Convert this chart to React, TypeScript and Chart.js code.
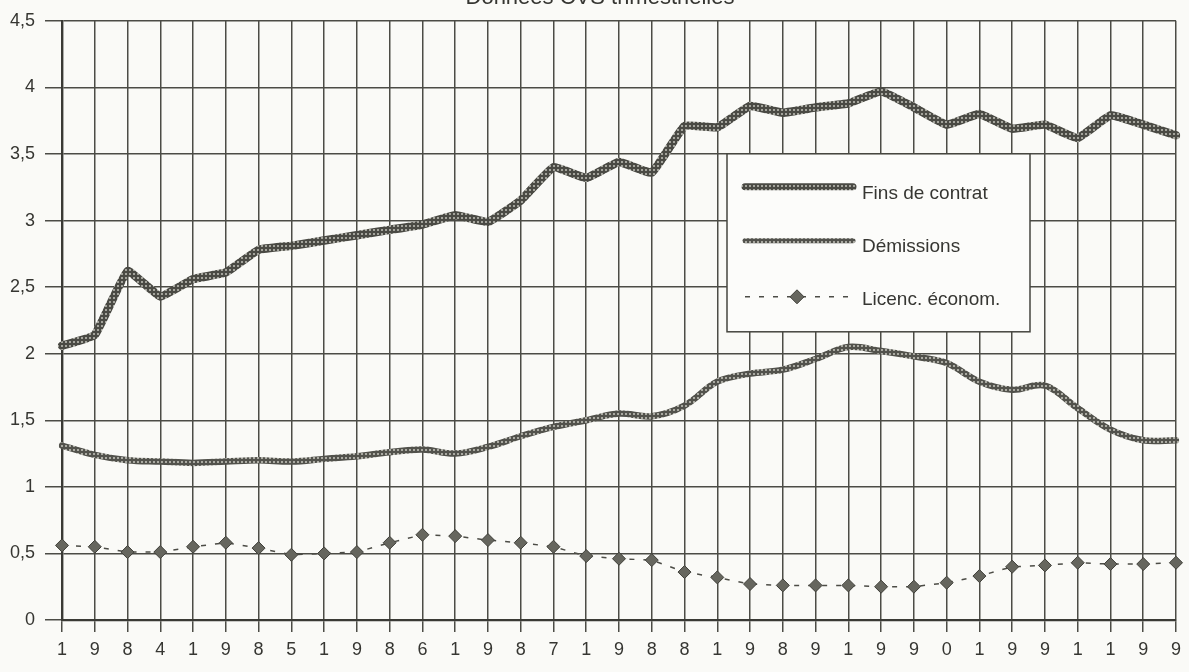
import React, { useEffect, useRef } from 'react';
import { Chart, registerables } from 'chart.js';

Chart.register(...registerables);

// Quarterly categories 1984 T1 .. 1992 T3
const quarters = [
  '1984T1', '1984T2', '1984T3', '1984T4',
  '1985T1', '1985T2', '1985T3', '1985T4',
  '1986T1', '1986T2', '1986T3', '1986T4',
  '1987T1', '1987T2', '1987T3', '1987T4',
  '1988T1', '1988T2', '1988T3', '1988T4',
  '1989T1', '1989T2', '1989T3', '1989T4',
  '1990T1', '1990T2', '1990T3', '1990T4',
  '1991T1', '1991T2', '1991T3', '1991T4',
  '1992T1', '1992T2', '1992T3',
];

// One digit printed under each quarter
const tickDigits = [
  '1', '9', '8', '4', '1', '9', '8', '5', '1', '9', '8', '6',
  '1', '9', '8', '7', '1', '9', '8', '8', '1', '9', '8', '9',
  '1', '9', '9', '0', '1', '9', '9', '1', '1', '9', '9',
];

const finsDeContrat = [
  2.06, 2.14, 2.62, 2.43, 2.56, 2.61, 2.78, 2.81, 2.85, 2.89, 2.93, 2.97,
  3.04, 2.99, 3.15, 3.40, 3.32, 3.44, 3.36, 3.71, 3.70, 3.86, 3.81, 3.85,
  3.88, 3.97, 3.85, 3.72, 3.80, 3.69, 3.72, 3.62, 3.79, 3.72, 3.64,
];

const demissions = [
  1.31, 1.24, 1.20, 1.19, 1.18, 1.19, 1.20, 1.19, 1.21, 1.23, 1.26, 1.28,
  1.25, 1.30, 1.38, 1.45, 1.50, 1.55, 1.53, 1.61, 1.79, 1.85, 1.88, 1.96,
  2.05, 2.02, 1.98, 1.93, 1.79, 1.73, 1.76, 1.59, 1.43, 1.35, 1.35,
];

const licencEconom = [
  0.56, 0.55, 0.51, 0.51, 0.55, 0.58, 0.54, 0.49, 0.50, 0.51, 0.58, 0.64,
  0.63, 0.60, 0.58, 0.55, 0.48, 0.46, 0.45, 0.36, 0.32, 0.27, 0.26, 0.26,
  0.26, 0.25, 0.25, 0.28, 0.33, 0.40, 0.41, 0.43, 0.42, 0.42, 0.43,
];

const seriesNames = ['Fins de contrat', 'Démissions', 'Licenc. économ.'];
const chartTitle = 'Données CVS trimestrielles';

const FONT = '"Liberation Sans", Arial, Helvetica, sans-serif';
const INK = '#363632';
const GRID = '#4c4c46';

function makeChain(dark: string, light: string): CanvasPattern | string {
  const c = document.createElement('canvas');
  c.width = 4;
  c.height = 4;
  const g = c.getContext('2d');
  if (!g) return dark;
  g.fillStyle = dark;
  g.fillRect(0, 0, 4, 4);
  g.fillStyle = light;
  g.fillRect(1, 1, 2, 2);
  return g.createPattern(c, 'repeat') || dark;
}

export default function App() {
  const ref = useRef<HTMLCanvasElement | null>(null);

  useEffect(() => {
    if (!ref.current) return;
    const chainThick = makeChain('#4a4a44', '#a4a49c');
    const chainThin = makeChain('#52524c', '#aaaaa2');

    const backgroundPlugin = {
      id: 'paper',
      beforeDraw(chart: any) {
        const { ctx, width, height } = chart;
        ctx.save();
        ctx.fillStyle = '#fafaf7';
        ctx.fillRect(0, 0, width, height);
        ctx.restore();
      },
    };

    const titlePlugin = {
      id: 'cutTitle',
      afterDraw(chart: any) {
        const { ctx, chartArea } = chart;
        ctx.save();
        ctx.font = `22px ${FONT}`;
        ctx.fillStyle = INK;
        ctx.textAlign = 'center';
        ctx.textBaseline = 'alphabetic';
        ctx.fillText(chartTitle, chartArea.left + 538, 4);
        ctx.restore();
      },
    };

    const legendPlugin = {
      id: 'boxLegend',
      afterDatasetsDraw(chart: any) {
        const { ctx, chartArea } = chart;
        const bx = chartArea.left + 665;
        const by = chartArea.top + 133;
        const bw = 303;
        const bh = 178;
        ctx.save();
        ctx.fillStyle = '#fcfcfa';
        ctx.fillRect(bx, by, bw, bh);
        ctx.strokeStyle = '#45453f';
        ctx.lineWidth = 1.5;
        ctx.strokeRect(bx, by, bw, bh);

        const sx0 = bx + 18;
        const sx1 = bx + 126;
        const tx = bx + 135;
        ctx.font = `19px ${FONT}`;
        ctx.fillStyle = INK;
        ctx.textAlign = 'left';
        ctx.textBaseline = 'alphabetic';

        // row 1
        ctx.lineCap = 'round';
        ctx.strokeStyle = chainThick;
        ctx.lineWidth = 7;
        ctx.beginPath();
        ctx.moveTo(sx0, by + 33);
        ctx.lineTo(sx1, by + 33);
        ctx.stroke();
        ctx.fillText(seriesNames[0], tx, by + 45);

        // row 2
        ctx.strokeStyle = chainThin;
        ctx.lineWidth = 5;
        ctx.beginPath();
        ctx.moveTo(sx0, by + 87);
        ctx.lineTo(sx1, by + 87);
        ctx.stroke();
        ctx.fillText(seriesNames[1], tx, by + 98);

        // row 3
        ctx.lineCap = 'butt';
        ctx.strokeStyle = '#4c4c46';
        ctx.lineWidth = 1.5;
        ctx.setLineDash([5, 9]);
        ctx.beginPath();
        ctx.moveTo(sx0, by + 143);
        ctx.lineTo(sx1, by + 143);
        ctx.stroke();
        ctx.setLineDash([]);
        const dx = bx + 70;
        const dy = by + 143;
        ctx.beginPath();
        ctx.moveTo(dx - 7, dy);
        ctx.lineTo(dx, dy - 7);
        ctx.lineTo(dx + 7, dy);
        ctx.lineTo(dx, dy + 7);
        ctx.closePath();
        ctx.fillStyle = '#66665e';
        ctx.fill();
        ctx.strokeStyle = '#40403a';
        ctx.lineWidth = 1;
        ctx.stroke();
        ctx.fillStyle = INK;
        ctx.fillText(seriesNames[2], tx, by + 151);
        ctx.restore();
      },
    };

    const chart = new Chart(ref.current, {
      type: 'line',
      data: {
        labels: quarters,
        datasets: [
          {
            label: seriesNames[0],
            data: finsDeContrat,
            borderColor: chainThick as any,
            borderWidth: 8.5,
            pointRadius: 0,
            tension: 0.1,
            borderCapStyle: 'round',
            borderJoinStyle: 'round',
          },
          {
            label: seriesNames[1],
            data: demissions,
            borderColor: chainThin as any,
            borderWidth: 6.5,
            pointRadius: 0,
            tension: 0.35,
            borderCapStyle: 'round',
            borderJoinStyle: 'round',
          },
          {
            label: seriesNames[2],
            data: licencEconom,
            borderColor: '#4c4c46',
            borderWidth: 1.5,
            borderDash: [5, 9],
            pointStyle: 'rectRot',
            pointRadius: 6.5,
            pointBackgroundColor: '#66665e',
            pointBorderColor: '#40403a',
            pointBorderWidth: 1,
            tension: 0,
          },
        ],
      },
      options: {
        animation: false,
        responsive: true,
        maintainAspectRatio: false,
        layout: { padding: { top: 18, right: 13, left: 0, bottom: 0 } },
        plugins: {
          legend: { display: false },
          title: { display: false },
          tooltip: { enabled: false },
        },
        scales: {
          x: {
            type: 'category',
            offset: false,
            afterFit(scale: any) {
              scale.height = 52;
            },
            grid: {
              color: GRID,
              lineWidth: 1.5,
              tickLength: 12,
              drawTicks: true,
            },
            border: { display: true, color: '#3a3a35', width: 2.2 },
            ticks: {
              autoSkip: false,
              maxRotation: 0,
              padding: 7,
              color: INK,
              font: { family: FONT, size: 18 },
              callback: (_v: any, i: number) => tickDigits[i],
            },
          },
          y: {
            min: 0,
            max: 4.5,
            afterFit(scale: any) {
              scale.width = 62;
            },
            grid: {
              color: GRID,
              lineWidth: 1.5,
              tickLength: 17,
              drawTicks: true,
            },
            border: { display: true, color: '#3a3a35', width: 2.4 },
            ticks: {
              stepSize: 0.5,
              padding: 10,
              color: INK,
              font: { family: FONT, size: 18 },
              callback: (v: any) => String(Number(v)).replace('.', ','),
            },
          },
        },
      },
      plugins: [backgroundPlugin, legendPlugin, titlePlugin],
    });

    return () => chart.destroy();
  }, []);

  return (
    <div style={{ position: 'fixed', left: 0, top: 0, width: 1189, height: 672, background: '#fafaf7' }}>
      <canvas ref={ref} />
    </div>
  );
}
